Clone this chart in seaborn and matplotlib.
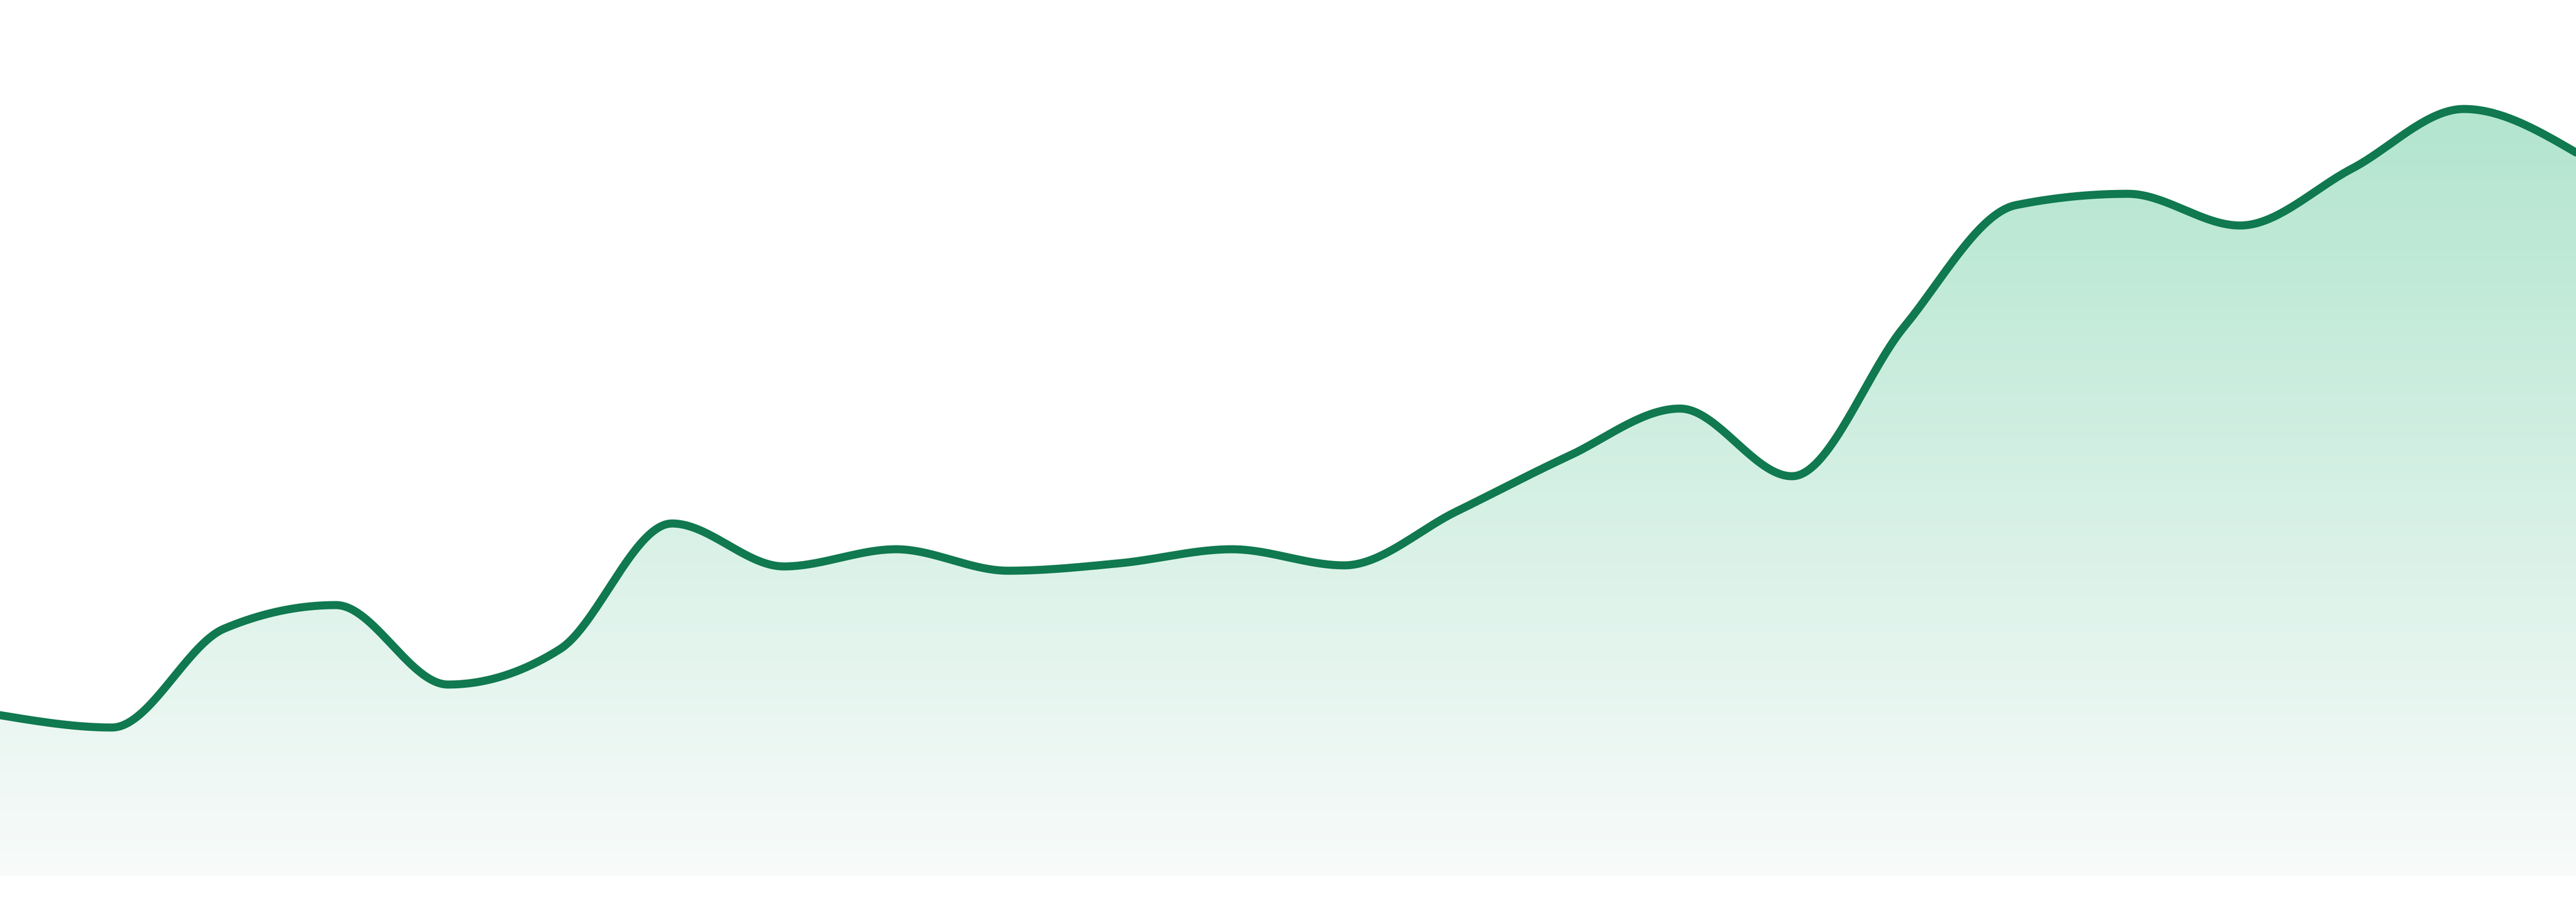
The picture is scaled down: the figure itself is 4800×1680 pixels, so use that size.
import numpy as np
import pandas as pd
import matplotlib
matplotlib.use("Agg")
import matplotlib.pyplot as plt
from matplotlib.colors import LinearSegmentedColormap
import seaborn as sns

# one value per period
periods = list(range(24))
values = [30.0, 27.7, 46.1, 50.5, 35.7, 42.3, 65.7, 57.7, 60.9, 56.9, 58.3, 60.9,
          57.9, 67.9, 78.2, 87.1, 74.5, 102.3, 125.0, 127.1, 121.2, 131.8, 142.9, 134.8]

LINE_COLOR = "#10794f"
FILL_TOP = "#b2e5cf"
FILL_BOTTOM = "#f8fbfa"


def monotone_x(x, y, steps=40):
    """Monotone cubic curve through the points (same idea as d3 curveMonotoneX)."""
    x = np.asarray(x, float)
    y = np.asarray(y, float)
    h = np.diff(x)
    s = np.diff(y) / h
    n = len(x)
    t = np.zeros(n)
    for i in range(1, n - 1):
        p = (s[i - 1] * h[i] + s[i] * h[i - 1]) / (h[i - 1] + h[i])
        t[i] = (np.sign(s[i - 1]) + np.sign(s[i])) * min(abs(s[i - 1]), abs(s[i]), 0.5 * abs(p))
    t[0] = (3 * s[0] - t[1]) / 2
    t[-1] = (3 * s[-1] - t[-2]) / 2
    xs, ys = [], []
    for i in range(n - 1):
        u = np.linspace(0, 1, steps, endpoint=(i == n - 2))
        dx = h[i]
        p0, p3 = y[i], y[i + 1]
        p1 = p0 + dx * t[i] / 3
        p2 = p3 - dx * t[i + 1] / 3
        bx0, bx1, bx2, bx3 = x[i], x[i] + dx / 3, x[i + 1] - dx / 3, x[i + 1]
        xs.append((1 - u) ** 3 * bx0 + 3 * (1 - u) ** 2 * u * bx1 + 3 * (1 - u) * u ** 2 * bx2 + u ** 3 * bx3)
        ys.append((1 - u) ** 3 * p0 + 3 * (1 - u) ** 2 * u * p1 + 3 * (1 - u) * u ** 2 * p2 + u ** 3 * p3)
    return np.concatenate(xs), np.concatenate(ys)


sns.set_theme(style="white")

fig = plt.figure(figsize=(16, 5.6), dpi=300)
ax = fig.add_axes([0, 0, 1, 1])

cx, cy = monotone_x(periods, values)
curve = pd.DataFrame({"period": cx, "value": cy})

# gradient area under the curve
area = ax.fill_between(curve["period"], curve["value"], 0, color="none", lw=0)
cmap = LinearSegmentedColormap.from_list("area", [FILL_BOTTOM, FILL_TOP])
top = max(values)
grad = ax.imshow(np.linspace(0, 1, 256).reshape(-1, 1), cmap=cmap, aspect="auto",
                 origin="lower", extent=[periods[0], periods[-1], 0, top], zorder=1)
grad.set_clip_path(area.get_paths()[0], transform=ax.transData)

sns.lineplot(data=curve, x="period", y="value", color=LINE_COLOR, linewidth=3.6,
             sort=False, ax=ax, zorder=3)

ax.set_xlim(periods[0], periods[-1])
ax.set_ylim(-4.8, 163.2)
ax.set_xlabel("")
ax.set_ylabel("")
ax.set_xticks([])
ax.set_yticks([])
for side in ax.spines.values():
    side.set_visible(False)

fig.savefig("out.png", dpi=300, facecolor="white")
